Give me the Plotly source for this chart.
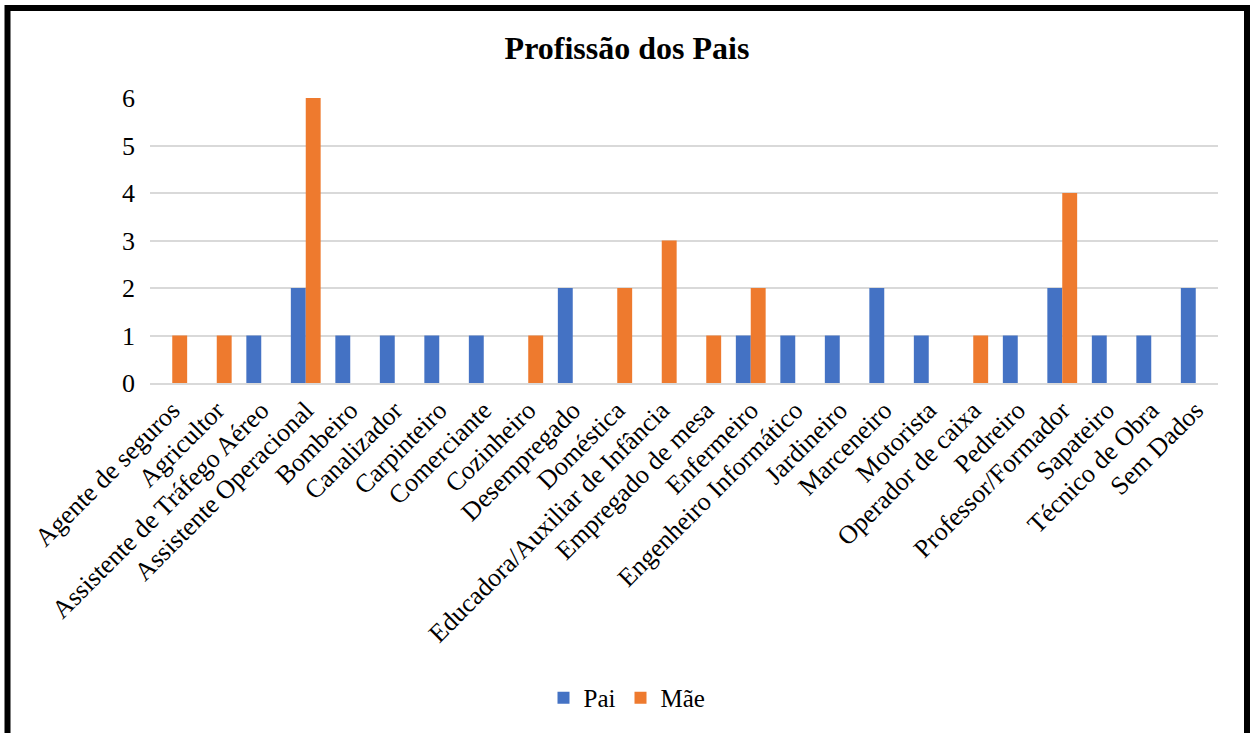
import plotly.graph_objects as go

categories = [
    "Agente de seguros", "Agricultor", "Assistente de Tráfego Aéreo",
    "Assistente Operacional", "Bombeiro", "Canalizador", "Carpinteiro",
    "Comerciante", "Cozinheiro", "Desempregado", "Doméstica",
    "Educadora/Auxiliar de Infância", "Empregado de mesa", "Enfermeiro",
    "Engenheiro Informático", "Jardineiro", "Marceneiro", "Motorista",
    "Operador de caixa", "Pedreiro", "Professor/Formador", "Sapateiro",
    "Técnico de Obra", "Sem Dados",
]
pai = [0, 0, 1, 2, 1, 1, 1, 1, 0, 2, 0, 0, 0, 1, 1, 1, 2, 1, 0, 1, 2, 1, 1, 2]
mae = [1, 1, 0, 6, 0, 0, 0, 0, 1, 0, 2, 3, 1, 2, 0, 0, 0, 0, 1, 0, 4, 0, 0, 0]
y_ticks = [0, 1, 2, 3, 4, 5, 6]

FONT = "Liberation Serif"

fig = go.Figure()
fig.add_trace(go.Bar(
    name="Pai", x=categories, y=pai,
    marker=dict(color="#4472C4", line=dict(width=0)),
))
fig.add_trace(go.Bar(
    name="Mãe", x=categories, y=mae,
    marker=dict(color="#EE7A2E", line=dict(width=0)),
))

fig.update_layout(
    width=1254, height=733,
    barmode="group", bargap=0.33, bargroupgap=0,
    paper_bgcolor="white", plot_bgcolor="white",
    font=dict(family=FONT, color="black"),
    title=dict(text="<b>Profissão dos Pais</b>", x=0.5, xanchor="center",
               y=0.935, yanchor="middle", font=dict(size=32, family=FONT)),
    margin=dict(l=150, r=36, t=98, b=350, autoexpand=False),
    legend=dict(orientation="h", xref="container", x=0.5, xanchor="center",
                y=-1.105, yanchor="middle",
                font=dict(size=25, family=FONT, color="black"), itemwidth=30,
                traceorder="normal"),
    showlegend=True,
)
fig.update_xaxes(
    tickangle=-45, tickfont=dict(size=26, family=FONT), showgrid=False,
    showline=True, linecolor="#d9d9d9", linewidth=1.5, ticks="", automargin=False,
)
fig.update_yaxes(
    range=[0, 6], tickvals=y_ticks, tickfont=dict(size=26, family=FONT),
    showgrid=True, gridcolor="#d9d9d9", gridwidth=1.5, zeroline=False,
    ticks="", ticklabelstandoff=14, automargin=False,
)
# outer frame
fig.add_shape(type="rect", xref="paper", yref="paper",
              x0=(7.5 - 150) / 1068, x1=(1247 - 150) / 1068,
              y0=-1.3, y1=(383 - 8) / 285,
              line=dict(color="black", width=6), fillcolor="rgba(0,0,0,0)", layer="above")

fig.write_html("out.html", config={"displayModeBar": False},
               post_script="document.body.style.margin='0';document.body.style.padding='0';")
